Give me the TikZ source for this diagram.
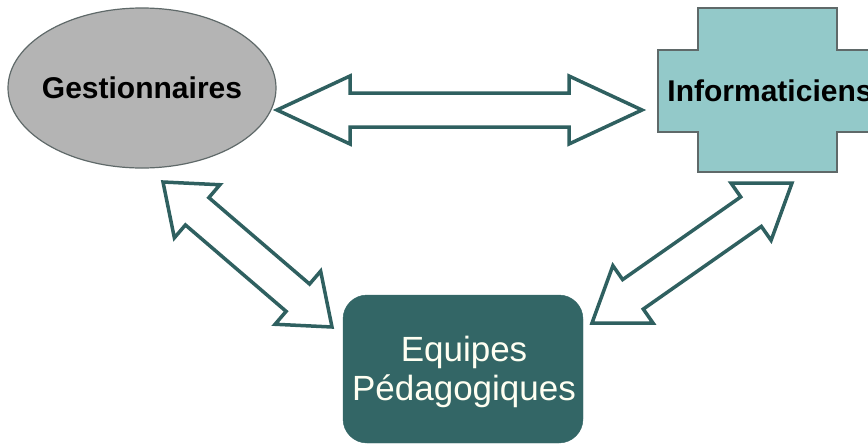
\documentclass[tikz,border=0pt]{standalone}
\usepackage{fontspec}
\setmainfont{Liberation Sans}
\usetikzlibrary{calc, shapes.geometric}

\definecolor{gris}{RGB}{180,180,180}
\definecolor{grisbord}{RGB}{95,105,105}
\definecolor{turquoise}{RGB}{147,201,201}
\definecolor{sarcelle}{RGB}{51,102,102}
\definecolor{traitfleche}{RGB}{47,96,96}
\definecolor{creme}{RGB}{255,255,242}

% double fleche creuse : pointe A, pointe B, longueur tete, demi-largeur tete, demi-largeur corps
\newcommand{\flechedouble}[5]{%
  \coordinate (h1) at ($(#1)!#3!(#2)$);
  \coordinate (h2) at ($(#2)!#3!(#1)$);
  \draw[fleche] (#1) -- ($(h1)!#4!90:(#2)$) -- ($(h1)!#5!90:(#2)$)
    -- ($(h2)!#5!-90:(#1)$) -- ($(h2)!#4!-90:(#1)$) -- (#2)
    -- ($(h2)!#4!90:(#1)$) -- ($(h2)!#5!90:(#1)$)
    -- ($(h1)!#5!-90:(#2)$) -- ($(h1)!#4!-90:(#2)$) -- cycle;
}

\tikzset{
  fleche/.style={draw=traitfleche, fill=white, line width=3.5pt, line join=miter},
  titre/.style={font=\bfseries\fontsize{30}{36}\selectfont, text=black, inner sep=0pt}
}

\begin{document}
\begin{tikzpicture}[x=1pt, y=-1pt]
  % Cadre
  \useasboundingbox (0,0) rectangle (868,445);

  % Gestionnaires
  \node[ellipse, draw=grisbord, line width=1.2pt, fill=gris,
        minimum width=268, minimum height=160, inner sep=0pt]
        (gest) at (142,88) {};
  \node[titre] (tgest) at (gest.center) {Gestionnaires};

  % Croix des informaticiens
  \draw[draw=grisbord, line width=1.2pt, fill=turquoise]
    (698,8) -- (837,8) -- (837,50) -- (877,50) -- (877,132) -- (837,132)
    -- (837,172) -- (698,172) -- (698,132) -- (658,132) -- (658,50)
    -- (698,50) -- cycle;
  \node[titre] (info) at (770,91) {Informaticiens};

  % Equipes pedagogiques
  \node[rectangle, rounded corners=24pt, fill=sarcelle, draw=sarcelle,
        minimum width=240, minimum height=148, inner sep=0pt]
        (equipe) at (463,369) {};
  \node[text=creme, align=center, font=\fontsize{35}{39}\selectfont,
        inner sep=0pt] (tequipe) at (464,372) {Equipes\\Pédagogiques};

  % Pointes des fleches
  \coordinate (gd) at (277,110);
  \coordinate (ig) at (642,110);
  \coordinate (gb) at (163,182);
  \coordinate (eg) at (332,327);
  \coordinate (ib) at (792,183);
  \coordinate (ed) at (592,323);

  % Gestionnaires <-> Informaticiens
  \flechedouble{gd}{ig}{73pt}{34pt}{17pt}

  % Gestionnaires <-> Equipes
  \flechedouble{gb}{eg}{45pt}{35pt}{18pt}

  % Informaticiens <-> Equipes
  \flechedouble{ib}{ed}{50pt}{35pt}{18pt}

\end{tikzpicture}
\end{document}
